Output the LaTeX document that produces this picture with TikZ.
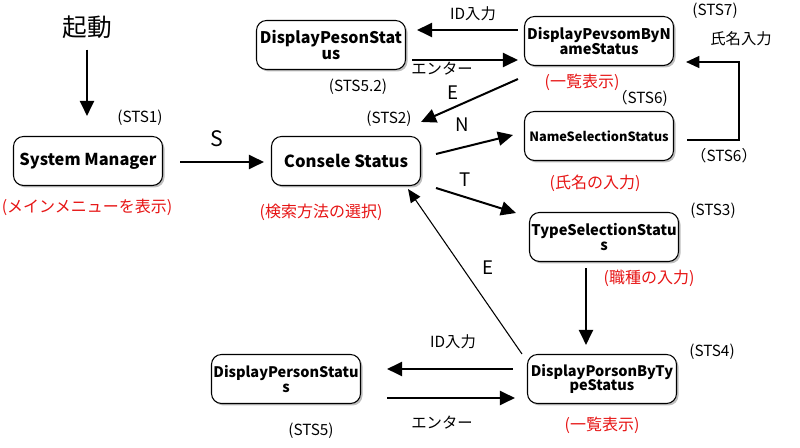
\documentclass[tikz,border=0pt]{standalone}
\usepackage{fontspec}
\setmainfont{Noto Sans CJK JP}
\usetikzlibrary{arrows.meta,shadows,calc}
\definecolor{lblred}{RGB}{230,20,20}
\newcommand{\bfs}[1]{\bfseries\fontsize{#1}{#1}\selectfont}
\begin{document}
\begin{tikzpicture}[x=0.75pt,y=-0.75pt,
  box/.style={draw, line width=0.8pt, rounded corners=7.5pt, minimum width=111.75pt,
    minimum height=36.75pt, fill=white, align=center, inner sep=1pt,
    font=\bfs{10.8},
    drop shadow={shadow xshift=1.5pt, shadow yshift=-1.5pt, opacity=0.25, fill=black}},
  lbl/.style={font=\fontsize{11.5}{13}\selectfont, inner sep=0pt},
  redlbl/.style={font=\fontsize{12}{14}\selectfont, text=lblred, inner sep=0pt},
  big/.style={font=\fontsize{14}{16}\selectfont, inner sep=0pt},
  arr/.style={line width=1.5pt, -{Triangle[length=11.25pt,width=10.5pt]}},
  thinarr/.style={line width=0.8pt, -{Triangle[length=10pt,width=8.5pt]}},
]
\useasboundingbox (0,0) rectangle (800,448);

% boxes
\node[box, font=\bfs{12.3}] (sm) at (88,161) {System Manager};
\node[box, font=\bfs{12.5}] (cs) at (346,161) {Consele Status};
\node[box, font=\bfs{12}] (dps2) at (331,45) {DisplayPesonStat\\us};
\node[box, font=\bfs{11}] (dpn) at (599,41) {DisplayPevsomByN\\ameStatus};
\node[box, font=\bfs{9.6}] (nss) at (599,136) {NameSelectionStatus};
\node[box, font=\bfs{11}] (tss) at (604,237) {TypeSelectionStatu\\s};
\node[box, font=\bfs{10.9}] (dpt) at (602,379) {DisplayPorsonByTy\\peStatus};
\node[box, font=\bfs{10.9}] (dps) at (286,379) {DisplayPersonStatu\\s};

% plain labels
\node[font=\fontsize{18.5}{20}\selectfont, inner sep=0pt] (kido) at (87,27) {起動};
\node[lbl] (l1) at (140,118) {(STS1)};
\node[lbl] (l2) at (389,119) {(STS2)};
\node[lbl] (l52) at (358,87) {(STS5.2)};
\node[lbl] (l7) at (715,11) {(STS7)};
\node[lbl] (l6a) at (640,98) {（STS6)};
\node[lbl] (l6b) at (724,156) {（STS6）};
\node[lbl] (l3) at (713,211) {(STS3)};
\node[lbl] (l4) at (712,352) {(STS4)};
\node[lbl] (l5) at (311,431) {(STS5)};
\node[lbl] (id1) at (473,14) {ID入力};
\node[lbl] (en1) at (442,69) {エンター};
\node[lbl] (nm) at (741,39) {氏名入力};
\node[lbl] (id2) at (453,342) {ID入力};
\node[lbl] (en2) at (442,423) {エンター};

\node[big, font=\fontsize{16}{18}\selectfont] (ls) at (217,139) {S};
\node[big] (le1) at (453,93) {E};
\node[big] (ln) at (462,125) {N};
\node[big] (lt) at (465,180) {T};
\node[big] (le2) at (488,268) {E};

% red labels
\node[redlbl] (r1) at (87,207) {(メインメニューを表示)};
\node[redlbl] (r2) at (321,212) {(検索方法の選択)};
\node[redlbl] (r3) at (582,82) {(一覧表示)};
\node[redlbl] (r4) at (595,183) {(氏名の入力)};
\node[redlbl] (r5) at (649,278) {(職種の入力)};
\node[redlbl] (r6) at (602,425) {(一覧表示)};

% connectors
\draw[arr] ($(kido.south)+(0,11)$) -- ($(sm.north)+(-1,-20)$);
\draw[arr] ($(sm.east)+(17,1)$) -- ($(cs.west)+(-7,1)$);
\draw[arr] ($(cs.east)+(15,-7)$) -- ($(nss.west)+(-11,-1)$);
\draw[arr] ($(cs.east)+(15,27)$) -- ($(tss.west)+(-13,-24)$);
\draw[arr] ($(dpn.south west)+(-6,13)$) -- ($(cs.north east)+(0,-14)$);
\draw[thinarr] ($(dpt.north west)+(-5,0)$) -- ($(cs.south east)+(-13,3)$);
\draw[arr] ($(dpn.west)+(-6,-11)$) -- ($(dps2.east)+(11,-15)$);
\draw[arr] ($(dps2.east)+(6,15)$) -- ($(dpn.west)+(-6,19)$);
\draw[line width=1.1pt, -{Triangle[length=10pt,width=9pt]}]
  ($(nss.east)+(13,4)$) -- ($(nss.east)+(65,4)$) |- ($(dpn.east)+(12,21)$);
\draw[arr] ($(tss.south)+(-18,6)$) -- ($(dpt.north)+(-16,-9)$);
\draw[arr] ($(dpt.west)+(-14,-10)$) -- ($(dps.east)+(26,-10)$);
\draw[arr] ($(dps.east)+(26,19)$) -- ($(dpt.west)+(-12,19)$);
\end{tikzpicture}
\end{document}
